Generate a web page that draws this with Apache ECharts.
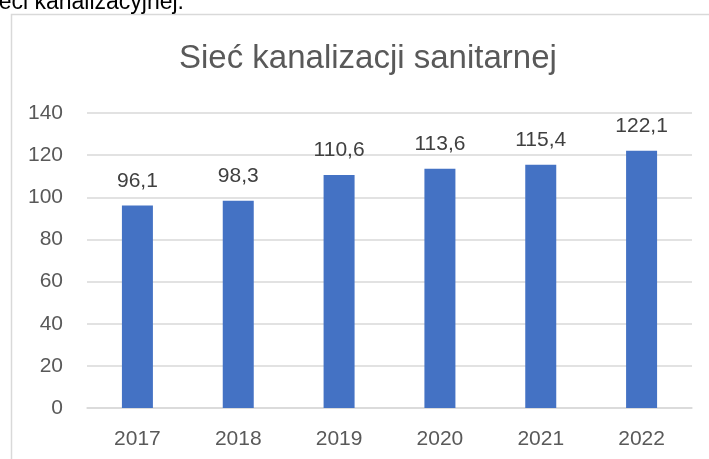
<!DOCTYPE html>
<html>
<head>
<meta charset="utf-8">
<script src="https://cdn.jsdelivr.net/npm/echarts@6/dist/echarts.min.js"></script>
<style>
  html, body { margin: 0; padding: 0; background: #fff; }
  #chart { width: 709px; height: 459px; }
</style>
</head>
<body>
<div id="chart"></div>
<script>
const years = ["2017", "2018", "2019", "2020", "2021", "2022"];
const lengths = [96.1, 98.3, 110.6, 113.6, 115.4, 122.1];
const yTicks = [0, 20, 40, 60, 80, 100, 120, 140];

const font = "'Liberation Sans', Arial, sans-serif";

const chart = echarts.init(document.getElementById("chart"));
chart.setOption({
  animation: false,
  title: {
    text: "Sieć kanalizacji sanitarnej",
    left: 174,
    top: 37,
    textStyle: { fontFamily: font, fontSize: 33, fontWeight: "normal", color: "#595959" },
  },
  grid: { left: 87, right: 17, top: 113, bottom: 51 },
  graphic: [
    {
      type: "rect",
      shape: { x: 11.5, y: 14.5, width: 760, height: 500 },
      style: { fill: "none", stroke: "#d9d9d9", lineWidth: 1.5 },
      silent: true,
    },
    {
      type: "text",
      right: 525,
      top: -9,
      style: { text: "Sieci kanalizacyjnej.", fontFamily: font, fontSize: 23, fill: "#000" },
    },
  ],
  xAxis: {
    type: "category",
    data: years,
    axisTick: { show: false },
    axisLine: { lineStyle: { color: "#d9d9d9", width: 1.5 } },
    axisLabel: { fontFamily: font, fontSize: 21, color: "#595959", margin: 21 },
  },
  yAxis: {
    type: "value",
    min: yTicks[0],
    max: yTicks[yTicks.length - 1],
    interval: 20,
    axisLine: { show: false },
    axisTick: { show: false },
    splitLine: { lineStyle: { color: "#d9d9d9", width: 1.5 } },
    axisLabel: { fontFamily: font, fontSize: 21, color: "#595959", margin: 24 },
  },
  series: [
    {
      type: "bar",
      data: lengths,
      barWidth: 31,
      itemStyle: { color: "#4472c4" },
      label: {
        show: true,
        position: "top",
        distance: 14,
        fontFamily: font,
        fontSize: 21,
        color: "#404040",
        formatter: (p) => p.value.toFixed(1).replace(".", ","),
      },
    },
  ],
});
</script>
</body>
</html>
